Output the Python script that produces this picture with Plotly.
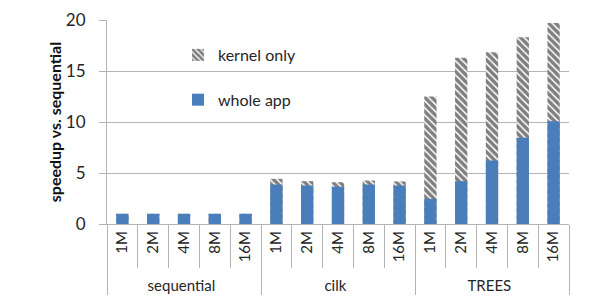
import plotly.graph_objects as go

groups = ["sequential"] * 5 + ["cilk"] * 5 + ["TREES"] * 5
sizes = ["1M", "2M", "4M", "8M", "16M"] * 3
kernel_only = [1, 1, 1, 1, 1,
               4.43, 4.2, 4.1, 4.26, 4.17,
               12.5, 16.3, 16.85, 18.3, 19.7]
whole_app = [1, 1, 1, 1, 1,
             3.87, 3.77, 3.65, 3.87, 3.77,
             2.47, 4.2, 6.22, 8.45, 10.08]

FONT = "Lato"
GRID = "#b4b4b4"
TXT = "#262626"

fig = go.Figure()
fig.add_trace(go.Bar(
    x=[groups, sizes], y=kernel_only, name="kernel only",
    legendgroup="k",
    marker=dict(color="white", line=dict(width=0),
                pattern=dict(shape="\\", fgcolor="black", bgcolor="white",
                             size=5, solidity=0.7)),
))
fig.add_trace(go.Bar(
    x=[groups, sizes], y=whole_app, name="whole app",
    legendgroup="w",
    marker=dict(color="#4a7ebb", line=dict(width=0)),
))

W, H = 603, 302
L, R, T, B = 107, 34, 20, 78
pw, ph = W - L - R, H - T - B

def px(x):
    return (x - L) / pw

def py(y):
    return (H - B - y) / ph

fig.update_layout(
    width=W, height=H,
    margin=dict(l=L, r=R, t=T, b=B, pad=0),
    barmode="overlay", bargap=0.6,
    paper_bgcolor="white", plot_bgcolor="white",
    font=dict(family=FONT, size=15, color=TXT),
    legend=dict(x=px(178), y=py(38), xanchor="left", yanchor="top",
                font=dict(size=16, color=TXT), tracegroupgap=21,
                bgcolor="rgba(0,0,0,0)", itemwidth=30),
    xaxis=dict(type="multicategory", showline=True, linecolor=GRID, linewidth=1,
               ticks="outside", tickson="boundaries", ticklen=43, tickcolor=GRID,
               tickangle=-90, tickfont=dict(size=15, family=FONT, color=TXT),
               showdividers=True, dividercolor=GRID, dividerwidth=1,
               automargin=False),
    yaxis=dict(range=[0, 20], tickvals=[0, 5, 10, 15, 20], showgrid=True,
               gridcolor=GRID, gridwidth=1, showline=True, linecolor=GRID,
               ticks="outside", ticklen=7, tickcolor=GRID,
               tickfont=dict(size=17, family=FONT, color=TXT),
               ticklabelstandoff=10, zeroline=False, automargin=False,
               title=dict(text="<b>speedup vs. sequential</b>",
                          font=dict(size=16, family=FONT, color="#111111"),
                          standoff=0)),
    showlegend=True,
)

fig.write_html("out.html", config={"displayModeBar": False},
               post_script="document.body.style.margin='0';document.body.style.padding='0';")
